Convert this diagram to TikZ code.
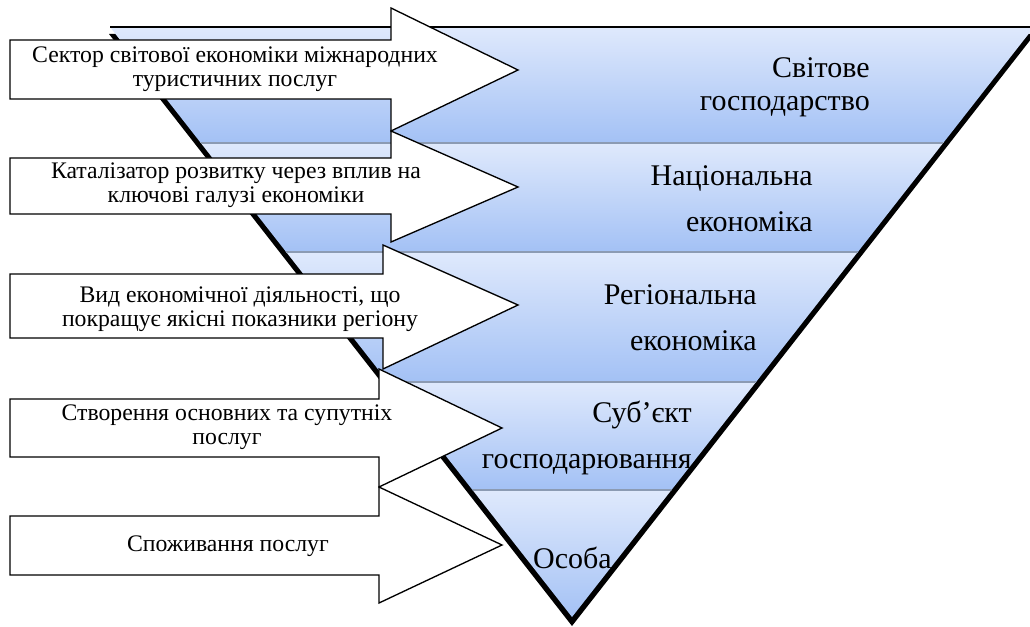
\documentclass[tikz,border=0pt]{standalone}
\usepackage{fontspec}
\setmainfont{Liberation Serif}
\definecolor{bandtop}{HTML}{DFE9FC}
\definecolor{bandbot}{HTML}{A3C1F5}
\definecolor{divcol}{HTML}{8C9BB3}
\begin{document}
\begin{tikzpicture}[x=0.75pt,y=-0.75pt,
  arrowshape/.style={draw=black,fill=white,line width=1pt,line join=miter},
  leftlbl/.style={font=\fontsize{17.8}{17.6}\selectfont,align=center,inner sep=0pt},
  rightlbl/.style={font=\fontsize{22.5}{34.5}\selectfont,align=right,inner sep=0pt,anchor=east},
  band/.style={top color=bandtop,bottom color=bandbot},
  divider/.style={draw=divcol,line width=0.9pt}]
\useasboundingbox (0,0) rectangle (1030,627);
% pyramid
\coordinate (TL) at (110,27);
\coordinate (TR) at (1034,27);
\coordinate (AP) at (572,617);
\fill[black] (109,34) -- (1035,34) -- (572,626) -- cycle;
\begin{scope}
  \clip (TL) -- (TR) -- (AP) -- cycle;
  \shade[band] (100,27) rectangle (1040,143);
  \shade[band] (100,143) rectangle (1040,252);
  \shade[band] (100,252) rectangle (1040,382);
  \shade[band] (100,382) rectangle (1040,490);
  \shade[band] (100,490) rectangle (1040,620);
  \draw[divider] (100,143) -- (1040,143);
  \draw[divider] (100,252) -- (1040,252);
  \draw[divider] (100,382) -- (1040,382);
  \draw[divider] (100,490) -- (1040,490);
\end{scope}
\draw[line width=1.3pt] (TL) -- (TR);
% arrows
\draw[arrowshape] (10,40) -- (391,40) -- (391,8) -- (518,70) -- (391,131) -- (391,99) -- (10,99) -- cycle;
\draw[arrowshape] (10,158) -- (391,158) -- (391,131) -- (518,187) -- (391,242) -- (391,214) -- (10,214) -- cycle;
\draw[arrowshape] (10,274) -- (383,274) -- (383,245) -- (518,305) -- (383,369) -- (383,338) -- (10,338) -- cycle;
\draw[arrowshape] (10,399) -- (379,399) -- (379,369) -- (502,428) -- (379,487) -- (379,457) -- (10,457) -- cycle;
\draw[arrowshape] (10,516) -- (379,516) -- (379,487) -- (502,545) -- (379,603) -- (379,575) -- (10,575) -- cycle;
% left labels
\node[leftlbl] (l1) at (235,69) {Сектор світової економіки міжнародних\\туристичних послуг};
\node[leftlbl] (l2) at (236,185) {Каталізатор розвитку через вплив на\\ключові галузі економіки};
\node[leftlbl] (l3) at (240,309) {Вид економічної діяльності, що\\покращує якісні показники регіону};
\node[leftlbl] (l4) at (227,427) {Створення основних та супутніх\\послуг};
\node[leftlbl] (l5) at (228,546) {Споживання послуг};
% right labels
\node[rightlbl,font=\fontsize{22.5}{24.75}\selectfont] (r1) at (870,87) {Світове\\господарство};
\node[rightlbl] (r2) at (813,199) {Національна\\економіка};
\node[rightlbl] (r3) at (757,318) {Регіональна\\економіка};
\node[rightlbl] (r4) at (692,438) {Суб’єкт\\господарювання};
\node[rightlbl] (r5) at (612,558) {Особа};
\end{tikzpicture}
\end{document}
